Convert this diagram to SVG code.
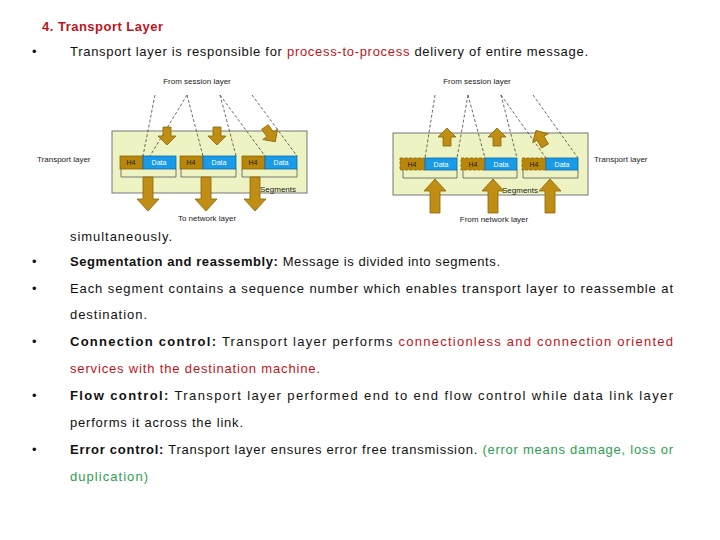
<svg xmlns="http://www.w3.org/2000/svg" width="720" height="540" viewBox="0 0 720 540">
<style>
.t{font-family:"Liberation Sans",Arial,sans-serif;font-size:13px;fill:#111}
.b{font-weight:bold}
.r{fill:#c0141c}
.g{fill:#2e9e4f}
.s{font-family:"Liberation Sans",Arial,sans-serif;font-size:8px;fill:#222}
.box{fill:#eef3c4;stroke:#777;stroke-width:1}
.h4{fill:#b8860b;stroke:#8a6508;stroke-width:0.8}
.dt{fill:#1a9be8;stroke:#0a6aaa;stroke-width:0.8}
.dl{fill:#fff;font-family:"Liberation Sans",Arial,sans-serif;font-size:7px}
.dh{fill:#222;font-family:"Liberation Sans",Arial,sans-serif;font-size:7px}
.ar{fill:#c08e14;stroke:#8a6508;stroke-width:0.8}
.dash{stroke:#444;stroke-width:0.8;stroke-dasharray:3,2;fill:none}
.br{fill:none;stroke:#555;stroke-width:0.8}
</style>
<defs>
<path id="dn" d="M-5,0 H5 V22 H11 L0,34 L-11,22 H-5 Z" class="ar"/>
<path id="sm" d="M-4,0 H4 V9 H9 L0,18 L-9,9 H-4 Z" class="ar"/>
</defs>
<text class="t b r" x="42" y="31" textLength="121" lengthAdjust="spacing">4. Transport Layer</text>
<g id="text">
<text class="t" x="32" y="56">•</text>
<text class="t" x="70" y="56" textLength="518" lengthAdjust="spacing">Transport layer is responsible for <tspan class="r">process-to-process</tspan> delivery of entire message.</text>
<text class="t" x="70" y="241" textLength="102" lengthAdjust="spacing">simultaneously.</text>
<text class="t" x="32" y="266">•</text>
<text class="t" x="70" y="266" textLength="430" lengthAdjust="spacing"><tspan class="b">Segmentation and reassembly:</tspan> Message is divided into segments.</text>
<text class="t" x="32" y="293">•</text>
<text class="t" x="70" y="293" textLength="603" lengthAdjust="spacing">Each segment contains a sequence number which enables transport layer to reassemble at</text>
<text class="t" x="70" y="319" textLength="77" lengthAdjust="spacing">destination.</text>
<text class="t" x="32" y="346">•</text>
<text class="t" x="70" y="346" textLength="603" lengthAdjust="spacing"><tspan class="b">Connection control:</tspan> Transport layer performs <tspan class="r">connectionless and connection oriented</tspan></text>
<text class="t r" x="70" y="373" textLength="250" lengthAdjust="spacing">services with the destination machine.</text>
<text class="t" x="32" y="400">•</text>
<text class="t" x="70" y="400" textLength="603" lengthAdjust="spacing"><tspan class="b">Flow control:</tspan> Transport layer performed end to end flow control while data link layer</text>
<text class="t" x="70" y="427" textLength="173" lengthAdjust="spacing">performs it across the link.</text>
<text class="t" x="32" y="454">•</text>
<text class="t" x="70" y="454" textLength="603" lengthAdjust="spacing"><tspan class="b">Error control:</tspan> Transport layer ensures error free transmission. <tspan class="g">(error means damage, loss or</tspan></text>
<text class="t g" x="70" y="481" textLength="78" lengthAdjust="spacing">duplication)</text>
</g>
<g id="left-figure">
<rect class="box" x="112" y="131" width="195" height="62"/>
<text class="s" x="197" y="84" text-anchor="middle">From session layer</text>
<text class="s" x="37" y="162">Transport layer</text>
<text class="s" x="260" y="192">Segments</text>
<text class="s" x="207" y="221" text-anchor="middle">To network layer</text>
<g id="lsegs">
<rect class="h4" x="120" y="156" width="23" height="13"/><rect class="dt" x="143" y="156" width="33" height="13"/>
<rect class="h4" x="180" y="156" width="23" height="13"/><rect class="dt" x="203" y="156" width="33" height="13"/>
<rect class="h4" x="242" y="156" width="23" height="13"/><rect class="dt" x="265" y="156" width="32" height="13"/>
<text class="dh" x="131" y="165" text-anchor="middle">H4</text><text class="dl" x="159" y="165" text-anchor="middle">Data</text>
<text class="dh" x="191" y="165" text-anchor="middle">H4</text><text class="dl" x="219" y="165" text-anchor="middle">Data</text>
<text class="dh" x="253" y="165" text-anchor="middle">H4</text><text class="dl" x="281" y="165" text-anchor="middle">Data</text>
<path class="br" d="M121,169 V177 H176 V169 M181,169 V177 H236 V169 M242,169 V177 H297 V169"/>
</g>
<g id="lconn">
<path class="dash" d="M155,95 L143,156 M187,95 L150,156 M187,95 L203,156 M220,95 L236,156 M220,95 L265,156 M252,95 L297,156"/>
<use href="#sm" x="167" y="127"/>
<use href="#sm" x="217" y="127"/>
<use href="#sm" transform="translate(265,127) rotate(-35)"/>
<use href="#dn" x="148" y="177"/>
<use href="#dn" x="206" y="177"/>
<use href="#dn" x="255" y="177"/>
</g>
</g>
<g id="right-figure">
<rect class="box" x="393" y="133" width="195" height="62"/>
<text class="s" x="477" y="84" text-anchor="middle">From session layer</text>
<text class="s" x="594" y="162">Transport layer</text>
<text class="s" x="502" y="193">Segments</text>
<text class="s" x="494" y="222" text-anchor="middle">From network layer</text>
<g id="rsegs">
<rect class="h4" x="400" y="158" width="25" height="12" stroke-dasharray="3,1.5"/><rect class="dt" x="425" y="158" width="32" height="12"/>
<rect class="h4" x="461" y="158" width="24" height="12" stroke-dasharray="3,1.5"/><rect class="dt" x="485" y="158" width="32" height="12"/>
<rect class="h4" x="522" y="158" width="24" height="12" stroke-dasharray="3,1.5"/><rect class="dt" x="546" y="158" width="32" height="12"/>
<text class="dh" x="412" y="167" text-anchor="middle">H4</text><text class="dl" x="441" y="167" text-anchor="middle">Data</text>
<text class="dh" x="473" y="167" text-anchor="middle">H4</text><text class="dl" x="501" y="167" text-anchor="middle">Data</text>
<text class="dh" x="534" y="167" text-anchor="middle">H4</text><text class="dl" x="562" y="167" text-anchor="middle">Data</text>
<path class="br" d="M403,170 V178 H457 V170 M463,170 V178 H517 V170 M523,170 V178 H578 V170"/>
</g>
<g id="rconn">
<path class="dash" d="M435,95 L425,158 M468,95 L457,158 M468,95 L485,158 M501,95 L517,158 M501,95 L546,158 M533,95 L578,158"/>
<use href="#sm" transform="translate(447,146) rotate(180)"/>
<use href="#sm" transform="translate(497,146) rotate(180)"/>
<use href="#sm" transform="translate(545,146) rotate(150)"/>
<use href="#dn" transform="translate(435,213) rotate(180)"/>
<use href="#dn" transform="translate(493,213) rotate(180)"/>
<use href="#dn" transform="translate(550,213) rotate(180)"/>
</g>
</g>
</svg>
